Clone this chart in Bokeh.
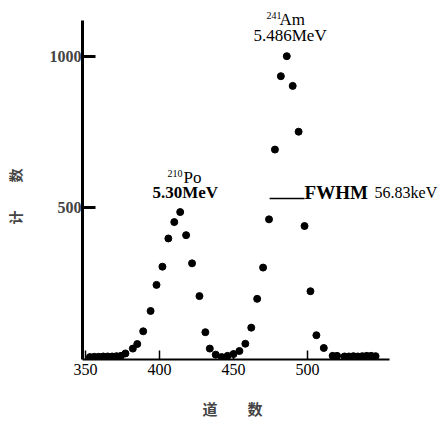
from bokeh.plotting import figure
from bokeh.models import Label, FixedTicker, Range1d
from bokeh.embed import file_html
from bokeh.resources import INLINE

# channel numbers (道数) and counts (计数)
channels = [353, 356, 359, 362, 365, 368, 371, 374, 377, 382, 385, 389, 394, 398,
            402, 406, 410, 414, 418, 422, 427, 431, 434, 438, 442, 446, 450, 454,
            458, 462, 466, 470, 474, 478, 482, 486, 490, 494, 498, 502, 506, 511,
            517, 520, 525, 528, 531, 534, 537, 540, 543, 546]
counts = [8, 9, 9, 10, 10, 10, 11, 12, 20, 36, 51, 93, 160, 246,
          306, 399, 453, 486, 410, 317, 209, 90, 36, 16, 8, 12, 18, 28,
          52, 105, 200, 303, 462, 692, 934, 1000, 902, 751, 440, 225, 80, 38,
          12, 12, 10, 10, 11, 10, 11, 12, 12, 11]

x_ticks = [350, 400, 450, 500]
y_ticks = [500, 1000]

SERIF = "Liberation Serif"
CJK = "Noto Sans CJK SC"

p = figure(width=442, height=421, output_backend="svg", toolbar_location=None,
           x_range=Range1d(348, 591.2), y_range=Range1d(0, 1167),
           min_border_left=82, min_border_right=0, min_border_top=5,
           min_border_bottom=60)
p.outline_line_color = None
p.grid.visible = False
p.background_fill_color = "white"
p.border_fill_color = "white"

p.scatter(channels, counts, size=7, color="black")

# x axis
xa = p.xaxis[0]
xa.bounds = (348, 555.5)
xa.ticker = FixedTicker(ticks=x_ticks)
xa.minor_tick_line_color = None
xa.major_tick_in = 9
xa.major_tick_out = 0
xa.major_tick_line_width = 1.5
xa.axis_line_width = 2
xa.major_label_standoff = 4
xa.major_label_text_font = SERIF
xa.major_label_text_font_size = "16px"
xa.major_label_text_color = "black"
xa.axis_label = "道\u3000\u3000数\u3000\u3000\u3000\u3000"
xa.axis_label_text_font = CJK
xa.axis_label_text_font_style = "bold"
xa.axis_label_text_font_size = "15px"
xa.axis_label_standoff = 20

# y axis
ya = p.yaxis[0]
ya.bounds = (0, 1118)
ya.ticker = FixedTicker(ticks=y_ticks)
ya.minor_tick_line_color = None
ya.major_tick_in = 13
ya.major_tick_out = 0
ya.major_tick_line_width = 3
ya.axis_line_width = 3
ya.major_label_standoff = 1
ya.major_label_text_font = SERIF
ya.major_label_text_font_style = "bold"
ya.major_label_text_font_size = "16px"
ya.axis_label = "计\u3000\u3000数\u3000\u3000"
ya.axis_label_text_font = CJK
ya.axis_label_text_font_style = "bold"
ya.axis_label_text_font_size = "14px"
ya.axis_label_standoff = 22


def lab(x, y, text, size, bold=False):
    p.add_layout(Label(x=x, y=y, text=text, text_font=SERIF,
                       text_font_size=f"{size}px",
                       text_font_style="bold" if bold else "normal",
                       text_baseline="middle", text_align="left",
                       text_color="black"))


# annotations
lab(472.3, 1133, "241", 10)
lab(481.1, 1121, "Am", 17)
lab(463.5, 1069, "5.486MeV", 17)
lab(405.4, 613, "210", 10)
lab(416.2, 600, "Po", 17)
lab(395.3, 552, "5.30MeV", 17, bold=True)
lab(498.0, 551, "FWHM", 19, bold=True)
lab(545.3, 551, "56.83keV", 16)
p.segment(x0=[474.4], y0=[531], x1=[498.0], y1=[531], line_color="black", line_width=1.5)

open("out.html", "w").write(file_html(p, INLINE))
